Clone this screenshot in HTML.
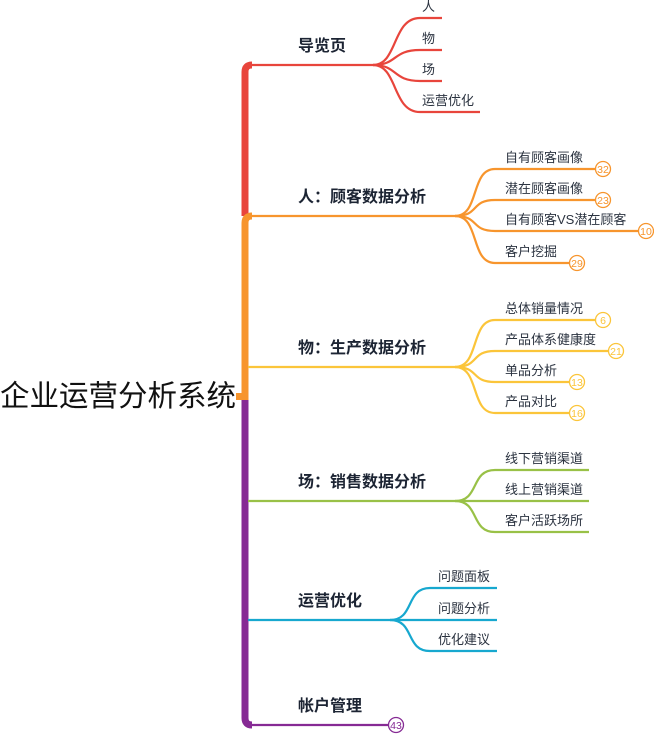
<!DOCTYPE html>
<html><head><meta charset="utf-8"><style>
html,body{margin:0;padding:0;background:#fff;}
svg text{font-family:"Liberation Sans","Noto Sans CJK SC",sans-serif;}
.c{font-size:13px;fill:#2b3340;}
.b{font-size:16px;font-weight:bold;fill:#1c2433;}
.n{font-size:10.5px;text-anchor:middle;}
</style></head><body>
<svg width="654" height="734" viewBox="0 0 654 734" xmlns="http://www.w3.org/2000/svg">
<g fill="none" stroke-linecap="butt">
<!-- trunk -->
<path d="M245 216 V72 Q245 65 252 65" stroke="#e8453c" stroke-width="7"/>
<path d="M245 400 V223 Q245 216 252 216" stroke="#f7952d" stroke-width="7"/>
<path d="M236 396.5 H245" stroke="#f7952d" stroke-width="7"/>
<path d="M245 400 V718 Q245 725 252 725" stroke="#862a94" stroke-width="7"/>
<!-- 导览页 -->
<g stroke="#e8453c" stroke-width="2.2">
<path d="M248 65 H373"/>
<path d="M373 65 C398 65 392 18 420 18 H442"/>
<path d="M373 65 C398 65 392 50 420 50 H442"/>
<path d="M373 65 C398 65 392 81 420 81 H442"/>
<path d="M373 65 C398 65 392 112 420 112 H480"/>
</g>
<!-- 人 -->
<g stroke="#f7952d" stroke-width="2.2">
<path d="M248 216 H455"/>
<path d="M455 216 C480 216 470 169 495 169 H596"/>
<path d="M455 216 C480 216 470 200 495 200 H596"/>
<path d="M455 216 C480 216 470 231 495 231 H639"/>
<path d="M455 216 C480 216 470 263 495 263 H570"/>
</g>
<!-- 物 -->
<g stroke="#fbc53a" stroke-width="2.2">
<path d="M248 367 H455"/>
<path d="M455 367 C480 367 470 320 495 320 H596"/>
<path d="M455 367 C480 367 470 351 495 351 H609"/>
<path d="M455 367 C480 367 470 382 495 382 H570"/>
<path d="M455 367 C480 367 470 413 495 413 H570"/>
</g>
<!-- 场 -->
<g stroke="#99c147" stroke-width="2.2">
<path d="M248 501 H455"/>
<path d="M455 501 C480 501 470 470 495 470 H589"/>
<path d="M455 501 C480 501 470 501 495 501 H589"/>
<path d="M455 501 C480 501 470 532 495 532 H589"/>
</g>
<!-- 运营优化 -->
<g stroke="#17a8cf" stroke-width="2.2">
<path d="M248 620 H390"/>
<path d="M390 620 C415 620 405 588 430 588 H497"/>
<path d="M390 620 C415 620 405 620 430 620 H497"/>
<path d="M390 620 C415 620 405 651 430 651 H497"/>
</g>
<path d="M248 725 H389" stroke="#862a94" stroke-width="2.2"/>
<!-- badges -->
<g stroke-width="1.3" fill="#fff">
<circle cx="603" cy="169" r="7.5" stroke="#f7952d"/>
<circle cx="603" cy="200" r="7.5" stroke="#f7952d"/>
<circle cx="646" cy="231" r="7.5" stroke="#f7952d"/>
<circle cx="577" cy="263" r="7.5" stroke="#f7952d"/>
<circle cx="603" cy="320" r="7.5" stroke="#fbc53a"/>
<circle cx="616" cy="351" r="7.5" stroke="#fbc53a"/>
<circle cx="577" cy="382" r="7.5" stroke="#fbc53a"/>
<circle cx="577" cy="413" r="7.5" stroke="#fbc53a"/>
<circle cx="396" cy="725" r="7.5" stroke="#862a94"/>
</g>
</g>
<g class="n" fill="#f7952d">
<text x="603" y="172.8">32</text><text x="603" y="203.8">23</text><text x="646" y="234.8">10</text><text x="577" y="266.8">29</text>
</g>
<g class="n" fill="#fbc53a">
<text x="603" y="323.8">6</text><text x="616" y="354.8">21</text><text x="577" y="385.8">13</text><text x="577" y="416.8">16</text>
</g>
<text class="n" x="396" y="728.8" fill="#862a94">43</text>

<text x="0" y="406" style="font-size:29.5px;fill:#111">企业运营分析系统</text>

<text class="b" x="298" y="51">导览页</text>
<text class="b" x="298" y="202">人：顾客数据分析</text>
<text class="b" x="298" y="353">物：生产数据分析</text>
<text class="b" x="298" y="487">场：销售数据分析</text>
<text class="b" x="298" y="606">运营优化</text>
<text class="b" x="298" y="711">帐户管理</text>

<text class="c" x="422" y="11">人</text>
<text class="c" x="422" y="43">物</text>
<text class="c" x="422" y="74">场</text>
<text class="c" x="422" y="105">运营优化</text>

<text class="c" x="505" y="162">自有顾客画像</text>
<text class="c" x="505" y="193">潜在顾客画像</text>
<text class="c" x="505" y="224">自有顾客VS潜在顾客</text>
<text class="c" x="505" y="256">客户挖掘</text>

<text class="c" x="505" y="313">总体销量情况</text>
<text class="c" x="505" y="344">产品体系健康度</text>
<text class="c" x="505" y="375">单品分析</text>
<text class="c" x="505" y="406">产品对比</text>

<text class="c" x="505" y="463">线下营销渠道</text>
<text class="c" x="505" y="494">线上营销渠道</text>
<text class="c" x="505" y="525">客户活跃场所</text>

<text class="c" x="438" y="581">问题面板</text>
<text class="c" x="438" y="613">问题分析</text>
<text class="c" x="438" y="644">优化建议</text>
</svg>
</body></html>
